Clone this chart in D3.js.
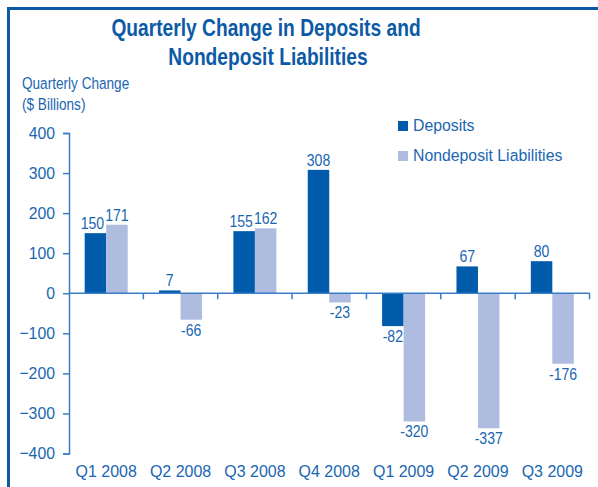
<!DOCTYPE html>
<html>
<head>
<meta charset="utf-8">
<script src="https://cdn.jsdelivr.net/npm/d3@7"></script>
<style>
  body { margin: 0; background: #fff; }
  svg text { font-family: "Liberation Sans", Arial, sans-serif; }
</style>
</head>
<body>
<div id="chart"></div>
<script>

// data
let quarters = ["Q1 2008", "Q2 2008", "Q3 2008", "Q4 2008", "Q1 2009", "Q2 2009", "Q3 2009"];
let seriesNames = ["Deposits", "Nondeposit Liabilities"];
let deposits = [150, 7, 155, 308, -82, 67, 80];
let nondeposit = [171, -66, 162, -23, -320, -337, -176];
let yTicks = [-400, -300, -200, -100, 0, 100, 200, 300, 400];

let width = 598;
let height = 487;
let darkBlue = "#005baa";
let lightBlue = "#aebcdf";
let textBlue = "#1a66b2";
let axisBlue = "#3b7cc6";

// no condensed font installed, so squeeze text horizontally
function narrow(sel, k) {
    sel.each(function () {
        let t = d3.select(this);
        let x = +t.attr("x") || 0;
        let y = +t.attr("y") || 0;
        t.attr("x", 0).attr("y", 0)
            .attr("transform", "translate(" + x + "," + y + ") scale(" + k + ",1)");
    });
}

let svg = d3.select("#chart")
    .append("svg")
    .attr("width", width)
    .attr("height", height);

// frame (top + left only)
svg.append("path")
    .attr("d", "M8.5," + height + " V8.5 H" + width)
    .attr("fill", "none")
    .attr("stroke", "#0c5aa6")
    .attr("stroke-width", 3);

/* title */
let titleLines = [
    { t: "Quarterly Change in Deposits and", x: 266, y: 36 },
    { t: "Nondeposit Liabilities", x: 268, y: 65 }
];
let title = svg.append("g")
    .selectAll("text")
    .data(titleLines)
    .join("text")
    .attr("x", d => d.x)
    .attr("y", d => d.y)
    .attr("text-anchor", "middle")
    .attr("fill", "#0c5aa6")
    .attr("font-weight", "bold")
    .attr("font-size", 24)
    .text(d => d.t);
narrow(title, 0.8);

/* y axis label */
let ylab = svg.append("g")
    .selectAll("text")
    .data(["Quarterly Change", "($ Billions)"])
    .join("text")
    .attr("x", 22)
    .attr("y", (d, i) => 89 + i * 21)
    .attr("fill", textBlue)
    .attr("font-size", 17)
    .text(d => d);
narrow(ylab, 0.8);

/* scales */
let xScale = d3.scaleBand()
    .domain(quarters)
    .range([69, 589.5]);

let bw = xScale.bandwidth();
let barW = 21.5;
let xSub = d3.scaleBand()
    .domain(seriesNames)
    .range([bw / 2 - barW, bw / 2 + barW]);

let yScale = d3.scaleLinear()
    .domain([-400, 400])
    .range([453.5, 133]);

/* bars */
let rows = quarters.map(function (q, i) {
    return [
        { q: q, s: seriesNames[0], v: deposits[i], other: nondeposit[i] },
        { q: q, s: seriesNames[1], v: nondeposit[i], other: deposits[i] }
    ];
});
let flat = rows.flat();
let colour = d3.scaleOrdinal().domain(seriesNames).range([darkBlue, lightBlue]);

svg.append("g")
    .selectAll("rect")
    .data(flat)
    .join("rect")
    .attr("x", d => xScale(d.q) + xSub(d.s))
    .attr("width", xSub.bandwidth())
    .attr("y", d => yScale(Math.max(0, d.v)))
    .attr("height", d => Math.abs(yScale(d.v) - yScale(0)))
    .attr("fill", d => colour(d.s));

/* value labels (deposit label nudged left when both bars are positive) */
let vals = svg.append("g")
    .selectAll("text")
    .data(flat)
    .join("text")
    .attr("x", d => xScale(d.q) + xSub(d.s) + xSub.bandwidth() / 2
        - (d.s === seriesNames[0] && d.v > 0 && d.other > 0 ? 3 : 0))
    .attr("y", d => d.v >= 0 ? yScale(d.v) - 4 : yScale(d.v) + 16)
    .attr("text-anchor", "middle")
    .attr("fill", textBlue)
    .attr("font-size", 16)
    .text(d => d.v);
narrow(vals, 0.88);

/* y axis */
let yAxis = d3.axisLeft(yScale)
    .tickValues(yTicks)
    .tickSize(6)
    .tickPadding(8);

let gy = svg.append("g")
    .attr("transform", "translate(69,0)")
    .call(yAxis);
gy.select(".domain").attr("stroke", axisBlue).attr("stroke-width", 1.5);
gy.selectAll(".tick line").attr("stroke", axisBlue).attr("stroke-width", 1.5);
gy.selectAll(".tick text").attr("fill", textBlue).attr("font-size", 17)
    .attr("font-family", null);
narrow(gy.selectAll(".tick text"), 0.93);

/* zero line with boundary ticks */
let zeroY = yScale(0);
svg.append("line")
    .attr("x1", 69).attr("x2", 589.5)
    .attr("y1", zeroY).attr("y2", zeroY)
    .attr("stroke", axisBlue).attr("stroke-width", 1.5);
svg.append("g")
    .selectAll("line")
    .data(quarters)
    .join("line")
    .attr("x1", d => xScale(d) + bw).attr("x2", d => xScale(d) + bw)
    .attr("y1", zeroY).attr("y2", zeroY + 6)
    .attr("stroke", axisBlue).attr("stroke-width", 1.5);

/* category labels */
let xAxis = d3.axisBottom(xScale).tickSize(0).tickPadding(0);
let gx = svg.append("g")
    .attr("transform", "translate(0,465)")
    .call(xAxis);
gx.select(".domain").remove();
gx.selectAll(".tick text").attr("fill", textBlue).attr("font-size", 17)
    .attr("font-family", null);
narrow(gx.selectAll(".tick text"), 0.94);

/* legend */
let legend = svg.append("g")
    .selectAll("g")
    .data(seriesNames)
    .join("g")
    .attr("transform", (d, i) => "translate(398," + (121 + i * 30) + ")");
legend.append("rect")
    .attr("width", 10).attr("height", 10)
    .attr("fill", d => colour(d));
let legText = legend.append("text")
    .attr("x", 15).attr("y", 10)
    .attr("fill", textBlue)
    .attr("font-size", 17)
    .text(d => d);
narrow(legText, 0.93);

</script>
</body>
</html>
